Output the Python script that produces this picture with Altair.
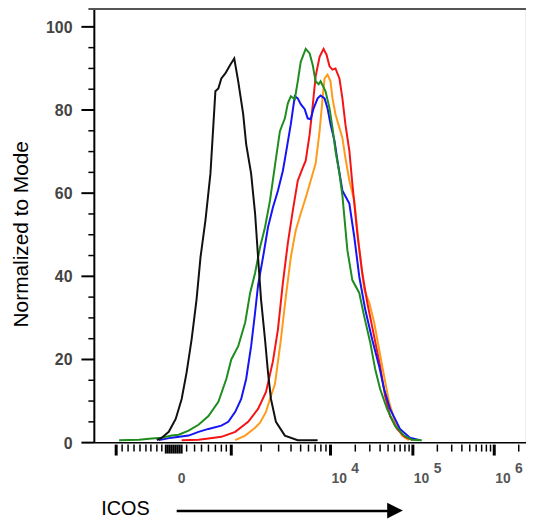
import altair as alt
import pandas as pd
import numpy as np

# ---- curve data (x: display channel, y: % of mode) ----
black_x = [158, 163, 170, 177, 183, 188, 193, 198, 202, 207, 212, 215, 217, 220, 223, 227, 232, 236,
           240, 245, 248, 253, 257, 260, 263, 267, 270, 273, 278, 287, 300, 320]
black_y = [0.6, 1.2, 2.6, 5.7, 10.5, 16.9, 24.8, 34.4, 44.6, 53.5, 64.7, 76.6, 84.5, 85.2, 87.6, 88.8, 90.9, 92.4,
           86.9, 79.0, 71.8, 64.7, 55.1, 44.6, 34.4, 24.8, 16.9, 10.5, 5.0, 1.7, 0.6, 0.6]

green_x = [120, 140, 153, 163, 173, 180, 190, 200, 210, 220, 228, 233, 240, 247, 252, 257, 262, 267, 272, 277,
           282, 287, 290, 293, 297, 300, 303, 308, 312, 315, 318, 321, 323, 328, 332, 335, 338, 342, 345, 350,
           355, 362, 367, 373, 378, 383, 390, 398, 407, 415, 425]
green_y = [0.6, 0.7, 1.0, 1.2, 1.7, 1.9, 2.9, 4.3, 6.4, 9.8, 15.3, 20.0, 23.2, 28.9, 36.0, 40.8, 47.0, 51.8, 58.2, 66.6,
           74.9, 78.0, 81.6, 83.3, 82.6, 86.9, 91.6, 94.7, 93.6, 90.9, 86.9, 86.2, 86.9, 84.5, 80.4, 75.7, 70.2, 64.7, 59.4, 46.3,
           39.1, 36.0, 30.3, 24.1, 17.7, 12.9, 8.1, 4.1, 1.7, 0.7, 0.6]

blue_x = [160, 173, 190, 200, 210, 223, 230, 237, 243, 248, 253, 257, 260, 265, 270, 275, 280, 285, 288, 293,
          297, 300, 303, 307, 310, 313, 316, 320, 323, 327, 330, 333, 337, 340, 345, 352, 357, 362, 368, 375,
          382, 387, 393, 403, 413, 423]
blue_y = [0.6, 1.2, 1.7, 2.6, 3.3, 4.1, 5.0, 7.4, 10.5, 15.3, 23.2, 31.3, 37.9, 44.6, 51.8, 56.6, 60.6, 65.4, 69.5, 76.6,
          83.3, 82.8, 81.4, 80.2, 78.0, 77.8, 80.4, 82.8, 83.5, 82.8, 80.4, 76.6, 72.6, 67.8, 60.6, 57.5, 49.4, 39.9, 32.0, 24.8,
          18.4, 12.9, 8.1, 3.3, 1.2, 0.6]

red_x = [183, 200, 210, 223, 237, 250, 260, 268, 275, 280, 285, 290, 295, 300, 305, 308, 312, 315, 318, 322,
         326, 329, 332, 335, 338, 342, 345, 348, 352, 355, 360, 365, 370, 377, 383, 388, 393, 400, 408, 416]
red_y = [0.6, 0.7, 1.0, 1.4, 2.6, 5.0, 8.1, 12.2, 19.6, 27.2, 38.4, 48.0, 55.8, 63.0, 66.1, 67.8, 74.2, 80.9, 88.1, 92.8,
         94.7, 93.3, 90.5, 89.7, 90.0, 87.6, 82.8, 76.6, 70.2, 62.3, 50.4, 40.8, 33.7, 25.5, 18.4, 11.2, 6.4, 3.3, 1.4, 0.6]

orange_x = [237, 247, 257, 262, 268, 272, 277, 283, 288, 293, 298, 303, 308, 313, 318, 322, 325, 327, 330, 333,
            335, 338, 342, 345, 348, 352, 357, 362, 367, 372, 377, 382, 387, 392, 398, 405, 412]
orange_y = [0.6, 1.7, 3.6, 4.8, 7.4, 10.5, 14.1, 24.8, 35.1, 44.6, 51.1, 55.1, 58.9, 63.0, 67.1, 74.9, 82.8, 87.6, 88.5, 86.9,
            82.8, 79.0, 75.7, 73.3, 68.5, 63.0, 58.2, 46.3, 36.8, 33.7, 28.9, 22.4, 16.0, 9.8, 5.0, 1.7, 0.6]

# ---- axis annotation ----
y_major = [0, 20, 40, 60, 80, 100]
y_major_labels = ["0", "20", "40", "60", "80", "100"]
y_minor = [5, 10, 15, 25, 30, 35, 45, 50, 55, 65, 70, 75, 85, 90, 95]
x_label_pos = [183, 333, 416, 498]
x_label_base = ["0", "10", "10", "10"]
x_label_exp = ["", "4", "5", "6"]
x_major = [117, 233, 333, 416, 498]
x_cluster = [167, 169, 171, 173, 175, 177, 179, 181, 183]
x_minor_lin = [123, 129, 135, 141, 147, 152, 158, 163, 188, 196, 203, 210, 217, 223, 228]
decades = [(233, 100), (333, 83), (416, 82), (498, 82)]
x_minor_log = [p + d * np.log10(k) for p, d in decades for k in range(2, 10) if p + d * np.log10(k) < 530]

AX_LEFT, AX_RIGHT = 95, 530
XMIN, XMAX = 8, 530
W, H = XMAX - XMIN, 436
YMAX = 104.06

x_enc = alt.X("x:Q", scale=alt.Scale(domain=[XMIN, XMAX], nice=False, zero=False), axis=None)
y_enc = alt.Y("y:Q", scale=alt.Scale(domain=[0, YMAX], nice=False, zero=False), axis=None)

def curve(xs, ys, color):
    df = pd.DataFrame({"x": xs, "y": ys, "i": range(len(xs))})
    return alt.Chart(df).mark_line(color=color, strokeWidth=2, interpolate="linear").encode(
        x=x_enc, y=y_enc, order="i:Q")

def xticks(vals, y2, width):
    df = pd.DataFrame({"x": vals})
    return alt.Chart(df).mark_rule(color="black", strokeWidth=width).encode(
        x=x_enc, y=alt.value(H + 2), y2=alt.value(y2))

# y-axis frame + ticks as line segments (one path per segment)
seg_rows = []
sid = 0
for xa, ya, xb, yb in [(AX_LEFT, 0, AX_LEFT, YMAX)] + \
        [(82, v, AX_LEFT, v) for v in y_major] + [(89, v, AX_LEFT, v) for v in y_minor]:
    seg_rows.append({"x": xa, "y": ya, "s": sid, "i": 0, "w": "major" if xa != 89 else "minor"})
    seg_rows.append({"x": xb, "y": yb, "s": sid, "i": 1, "w": "major" if xa != 89 else "minor"})
    sid += 1
seg_df = pd.DataFrame(seg_rows)
yframe = alt.Chart(seg_df).mark_line(color="black").encode(
    x=x_enc, y=y_enc, detail="s:N", order="i:Q",
    strokeWidth=alt.StrokeWidth("w:N", scale=alt.Scale(domain=["major", "minor"], range=[2, 1.5]), legend=None))

bottom_line = alt.Chart(pd.DataFrame({"x": [AX_LEFT], "x2": [AX_RIGHT], "y": [0]})).mark_rule(
    color="black", strokeWidth=1.5).encode(x=x_enc, x2="x2:Q", y=y_enc)
top_line = alt.Chart(pd.DataFrame({"x": [89], "x2": [AX_RIGHT]})).mark_rule(
    color="#555", strokeWidth=2).encode(x=x_enc, x2="x2:Q", y=alt.value(-1))
right_line = alt.Chart(pd.DataFrame({"x": [AX_RIGHT], "y": [0], "y2": [YMAX]})).mark_rule(
    color="#dddddd", strokeWidth=1).encode(x=x_enc, y=y_enc, y2="y2:Q")

minor_log_t = xticks(x_minor_log, H + 9, 1.5)
minor_lin_t = xticks(x_minor_lin, H + 9, 1.5)
major_t = xticks(x_major, H + 13, 3)
cluster_t = xticks(x_cluster, H + 11, 2)

ylab_df = pd.DataFrame({"y": y_major, "lab": y_major_labels})
ylabels = alt.Chart(ylab_df).mark_text(
    align="right", baseline="middle", font="Liberation Sans", fontWeight="bold",
    fontSize=16, color="#444", dy=1).encode(x=alt.value(73 - XMIN), y=y_enc, text="lab:N")

ytitle = alt.Chart(pd.DataFrame({"t": ["Normalized to Mode"]})).mark_text(
    angle=270, align="center", baseline="alphabetic", font="Liberation Sans",
    fontSize=21, color="black").encode(x=alt.value(28 - XMIN), y=alt.value(234 - XMIN), text="t:N")

lab_df = pd.DataFrame({"x": x_label_pos, "base": x_label_base, "exp": x_label_exp})
lab_style = dict(font="Liberation Sans", fontWeight="bold", fontSize=14, color="#555", baseline="alphabetic")
zero_lab = alt.Chart(lab_df.iloc[:1]).mark_text(align="center", **lab_style).encode(
    x=x_enc, y=alt.value(H + 41), text="base:N")
pow_lab = alt.Chart(lab_df.iloc[1:]).mark_text(align="left", dx=1, **lab_style).encode(
    x=x_enc, y=alt.value(H + 41), text="base:N")
exp_lab = alt.Chart(lab_df.iloc[1:]).mark_text(align="left", dx=21, **lab_style).encode(
    x=x_enc, y=alt.value(H + 31), text="exp:N")

icos = alt.Chart(pd.DataFrame({"x": [102], "t": ["ICOS"]})).mark_text(
    align="left", baseline="alphabetic", font="Liberation Sans", fontSize=20, color="black").encode(
    x=x_enc, y=alt.value(H + 73), text="t:N")

arrow_line = alt.Chart(pd.DataFrame({"x": [178], "x2": [392]})).mark_rule(
    color="black", strokeWidth=2.5).encode(x=x_enc, x2="x2:Q", y=alt.value(H + 69))
arrow_head = alt.Chart(pd.DataFrame({"x": [398]})).mark_point(
    shape="M-1,-1L1,0L-1,1Z", filled=True, size=250, color="black", opacity=1, strokeWidth=0).encode(
    x=x_enc, y=alt.value(H + 68.5))

chart = alt.layer(
    right_line, top_line, minor_log_t, minor_lin_t, major_t, cluster_t, bottom_line,
    curve(orange_x, orange_y, "#ff9a1a"),
    curve(red_x, red_y, "#f51414"),
    curve(blue_x, blue_y, "#1414f5"),
    curve(green_x, green_y, "#1f8c1f"),
    curve(black_x, black_y, "#111111"),
    yframe,
    ylabels, ytitle, zero_lab, pow_lab, exp_lab, icos, arrow_line, arrow_head,
).properties(
    width=W, height=H,
    autosize=alt.AutoSizeParams(type="none"),
    padding={"left": 0, "top": 0, "right": 0, "bottom": 80},
).configure_view(stroke=None)

chart.save("out.html", embed_options={"renderer": "svg", "actions": False})
